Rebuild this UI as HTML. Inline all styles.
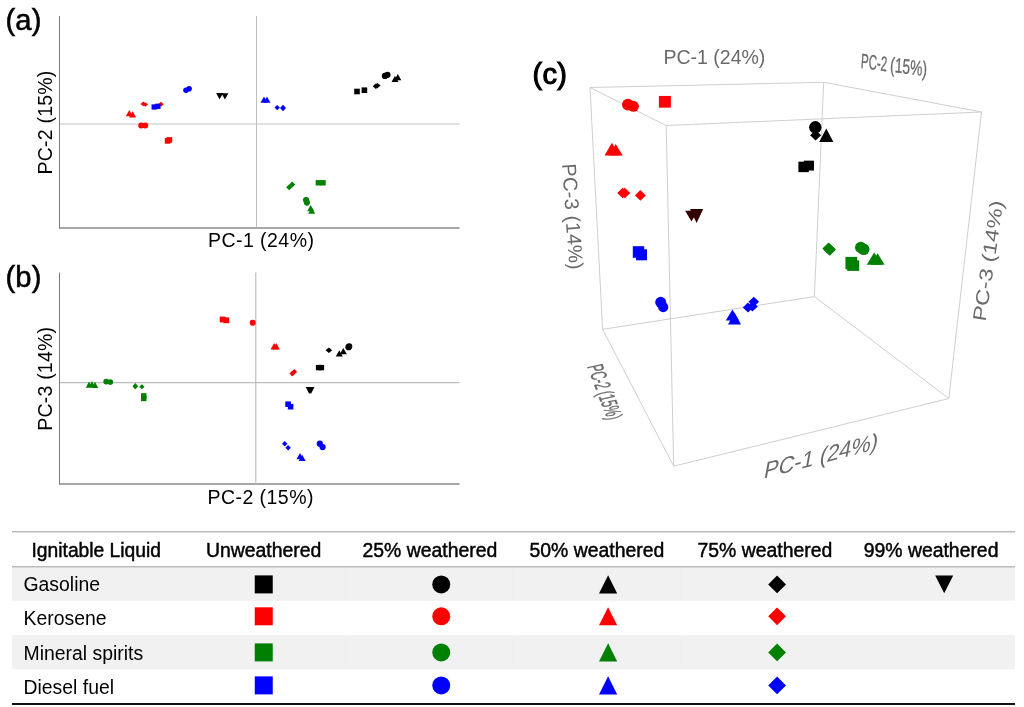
<!DOCTYPE html>
<html><head><meta charset="utf-8"><title>PCA figure</title>
<style>
html,body{margin:0;padding:0;background:#fff;width:1024px;height:707px;overflow:hidden}
svg{display:block;filter:blur(0.45px)}
</style></head>
<body>
<svg width="1024" height="707" viewBox="0 0 1024 707">
<rect width="1024" height="707" fill="#fff"/>
<g id="pa">
<line x1="59.5" y1="16" x2="59.5" y2="228.5" stroke="#7a7a7a" stroke-width="1"/>
<line x1="59" y1="228" x2="459.5" y2="228" stroke="#8a8a8a" stroke-width="1.3"/>
<line x1="256.5" y1="16" x2="256.5" y2="227.5" stroke="#bdbdbd" stroke-width="1"/>
<line x1="60" y1="124" x2="459.5" y2="124" stroke="#c4c4c4" stroke-width="1.1"/>
<polygon points="129.30,110.10 132.80,116.30 125.80,116.30" fill="#ff0000"/>
<polygon points="132.60,111.30 136.10,117.50 129.10,117.50" fill="#ff0000"/>
<polygon points="143.30,101.60 146.10,103.90 143.30,106.20 140.50,103.90" fill="#ff0000"/>
<polygon points="145.30,102.20 148.10,104.50 145.30,106.80 142.50,104.50" fill="#ff0000"/>
<polygon points="161.00,101.80 163.75,104.30 161.00,106.80 158.25,104.30" fill="#ff0000"/>
<circle cx="141.20" cy="125.50" r="2.95" fill="#ff0000"/>
<circle cx="145.30" cy="125.50" r="2.95" fill="#ff0000"/>
<rect x="164.80" y="138.10" width="5.60" height="5.60" fill="#ff0000"/>
<rect x="166.60" y="137.10" width="5.60" height="5.60" fill="#ff0000"/>
<rect x="151.55" y="104.35" width="5.30" height="5.30" fill="#0000ff"/>
<rect x="155.25" y="103.65" width="5.30" height="5.30" fill="#0000ff"/>
<circle cx="186.00" cy="90.20" r="2.80" fill="#0000ff"/>
<circle cx="189.10" cy="88.80" r="2.80" fill="#0000ff"/>
<polygon points="264.00,96.50 267.50,102.70 260.50,102.70" fill="#0000ff"/>
<polygon points="267.00,96.50 270.50,102.70 263.50,102.70" fill="#0000ff"/>
<polygon points="277.20,104.90 279.90,107.60 277.20,110.30 274.50,107.60" fill="#0000ff"/>
<polygon points="283.00,104.70 286.00,108.00 283.00,111.30 280.00,108.00" fill="#0000ff"/>
<polygon points="216.10,93.10 223.10,93.10 219.60,99.30" fill="#000000"/>
<polygon points="221.40,93.30 228.40,93.30 224.90,99.50" fill="#000000"/>
<rect x="354.20" y="88.70" width="5.60" height="5.60" fill="#000000"/>
<rect x="361.60" y="87.40" width="5.60" height="5.60" fill="#000000"/>
<polygon points="375.90,83.50 379.10,86.20 375.90,88.90 372.70,86.20" fill="#000000"/>
<polygon points="377.40,82.90 380.60,85.60 377.40,88.30 374.20,85.60" fill="#000000"/>
<circle cx="384.90" cy="75.90" r="3.10" fill="#000000"/>
<circle cx="387.50" cy="74.80" r="3.10" fill="#000000"/>
<polygon points="395.00,75.70 398.50,81.90 391.50,81.90" fill="#000000"/>
<polygon points="397.80,74.00 401.30,80.20 394.30,80.20" fill="#000000"/>
<polygon points="289.20,184.20 292.30,187.20 289.20,190.20 286.10,187.20" fill="#008000"/>
<polygon points="292.20,181.40 295.20,184.40 292.20,187.40 289.20,184.40" fill="#008000"/>
<rect x="315.70" y="180.10" width="5.40" height="5.40" fill="#008000"/>
<rect x="320.30" y="180.10" width="5.40" height="5.40" fill="#008000"/>
<circle cx="306.10" cy="200.00" r="3.10" fill="#008000"/>
<circle cx="306.90" cy="202.60" r="3.10" fill="#008000"/>
<polygon points="310.70,205.00 314.20,211.20 307.20,211.20" fill="#008000"/>
<polygon points="311.70,207.50 315.20,213.70 308.20,213.70" fill="#008000"/>
</g>
<g id="pb">
<line x1="59.5" y1="272.5" x2="59.5" y2="484.5" stroke="#7a7a7a" stroke-width="1"/>
<line x1="59" y1="484" x2="459.5" y2="484" stroke="#8a8a8a" stroke-width="1.3"/>
<line x1="255.75" y1="272.5" x2="255.75" y2="483.5" stroke="#c4c4c4" stroke-width="1.3"/>
<line x1="60" y1="382.6" x2="459.5" y2="382.6" stroke="#bdbdbd" stroke-width="1.1"/>
<polygon points="89.00,381.60 92.20,387.80 85.80,387.80" fill="#008000"/>
<polygon points="92.00,381.10 95.20,387.30 88.80,387.30" fill="#008000"/>
<polygon points="95.00,381.70 98.20,387.90 91.80,387.90" fill="#008000"/>
<circle cx="106.20" cy="381.60" r="2.85" fill="#008000"/>
<circle cx="110.30" cy="382.00" r="2.85" fill="#008000"/>
<polygon points="135.30,382.90 138.10,386.20 135.30,389.50 132.50,386.20" fill="#008000"/>
<polygon points="141.90,384.30 144.60,386.80 141.90,389.30 139.20,386.80" fill="#008000"/>
<rect x="141.05" y="393.20" width="5.40" height="5.40" fill="#008000"/>
<rect x="141.05" y="395.80" width="5.40" height="5.40" fill="#008000"/>
<rect x="219.70" y="316.60" width="5.80" height="5.80" fill="#ff0000"/>
<rect x="223.40" y="317.40" width="5.80" height="5.80" fill="#ff0000"/>
<circle cx="252.70" cy="322.80" r="3.00" fill="#ff0000"/>
<polygon points="274.10,343.00 277.60,349.60 270.60,349.60" fill="#ff0000"/>
<polygon points="276.30,343.00 279.80,349.60 272.80,349.60" fill="#ff0000"/>
<polygon points="292.30,370.80 295.10,373.60 292.30,376.40 289.50,373.60" fill="#ff0000"/>
<polygon points="294.30,368.90 297.10,371.70 294.30,374.50 291.50,371.70" fill="#ff0000"/>
<rect x="315.90" y="364.90" width="5.40" height="5.40" fill="#000000"/>
<rect x="318.70" y="364.90" width="5.40" height="5.40" fill="#000000"/>
<polygon points="328.90,347.40 332.20,350.20 328.90,353.00 325.60,350.20" fill="#000000"/>
<polygon points="339.30,350.30 342.80,356.50 335.80,356.50" fill="#000000"/>
<polygon points="343.30,348.00 346.80,354.20 339.80,354.20" fill="#000000"/>
<circle cx="348.50" cy="347.20" r="3.10" fill="#000000"/>
<circle cx="349.20" cy="346.40" r="3.10" fill="#000000"/>
<polygon points="305.70,387.10 312.90,387.10 309.30,393.90" fill="#000000"/>
<polygon points="307.30,387.10 314.50,387.10 310.90,393.90" fill="#000000"/>
<rect x="285.30" y="401.40" width="5.60" height="5.60" fill="#0000ff"/>
<rect x="287.80" y="403.90" width="5.60" height="5.60" fill="#0000ff"/>
<polygon points="284.70,441.00 287.40,443.70 284.70,446.40 282.00,443.70" fill="#0000ff"/>
<polygon points="288.10,445.00 290.80,447.70 288.10,450.40 285.40,447.70" fill="#0000ff"/>
<circle cx="319.80" cy="443.70" r="3.10" fill="#0000ff"/>
<circle cx="322.60" cy="447.10" r="3.10" fill="#0000ff"/>
<polygon points="300.00,453.10 303.50,459.30 296.50,459.30" fill="#0000ff"/>
<polygon points="302.20,454.80 305.70,461.00 298.70,461.00" fill="#0000ff"/>
</g>
<g id="pc" stroke="#cfcfcf" stroke-width="1" fill="none">
<line x1="590" y1="87.5" x2="823.7" y2="82.3"/>
<line x1="590" y1="87.5" x2="666.2" y2="125.5"/>
<line x1="666.2" y1="125.5" x2="981.5" y2="112"/>
<line x1="823.7" y1="82.3" x2="981.5" y2="112"/>
<line x1="590" y1="87.5" x2="602.6" y2="329.3"/>
<line x1="666.2" y1="125.5" x2="673.7" y2="466.2"/>
<line x1="981.5" y1="112" x2="948.8" y2="398.5"/>
<line x1="823.7" y1="82.3" x2="814.4" y2="296.6"/>
<line x1="602.6" y1="329.3" x2="814.4" y2="296.6"/>
<line x1="814.4" y1="296.6" x2="948.8" y2="398.5"/>
<line x1="948.8" y1="398.5" x2="673.7" y2="466.2"/>
<line x1="673.7" y1="466.2" x2="602.6" y2="329.3"/>
</g>
<g id="pcm">
<polygon points="611.90,142.80 619.25,155.60 604.55,155.60" fill="#ff0000"/>
<polygon points="615.70,143.90 622.70,155.60 608.70,155.60" fill="#ff0000"/>
<circle cx="627.90" cy="104.60" r="5.90" fill="#ff0000"/>
<circle cx="633.40" cy="106.30" r="5.50" fill="#ff0000"/>
<rect x="658.90" y="95.95" width="12.00" height="11.70" fill="#ff0000"/>
<line x1="623.5" y1="104.2" x2="638" y2="111.4" stroke="#800000" stroke-opacity="0.35" stroke-width="1"/>
<polygon points="622.70,187.75 628.20,193.00 622.70,198.25 617.20,193.00" fill="#ff0000"/>
<polygon points="624.80,187.75 630.30,193.00 624.80,198.25 619.30,193.00" fill="#ff0000"/>
<polygon points="640.40,190.05 645.90,195.40 640.40,200.75 634.90,195.40" fill="#ff0000"/>
<polygon points="815.60,130.10 821.10,135.30 815.60,140.50 810.10,135.30" fill="#000000"/>
<circle cx="815.30" cy="127.30" r="6.20" fill="#000000"/>
<polygon points="826.30,128.50 833.40,141.90 819.20,141.90" fill="#000000"/>
<rect x="798.40" y="161.65" width="10.40" height="10.50" fill="#000000"/>
<rect x="803.85" y="160.65" width="10.10" height="9.90" fill="#000000"/>
<polygon points="685.15,210.85 697.85,210.85 691.50,221.55" fill="#330000"/>
<polygon points="689.95,209.05 703.25,209.05 696.60,222.95" fill="#330000"/>
<polygon points="828.60,242.60 834.85,248.60 828.60,254.60 822.35,248.60" fill="#008000"/>
<polygon points="829.70,243.70 835.95,249.70 829.70,255.70 823.45,249.70" fill="#008000"/>
<circle cx="860.80" cy="247.50" r="5.80" fill="#008000"/>
<circle cx="863.70" cy="249.30" r="5.80" fill="#008000"/>
<rect x="845.45" y="256.90" width="11.70" height="12.40" fill="#008000"/>
<rect x="847.20" y="260.30" width="12.00" height="10.60" fill="#008000"/>
<polygon points="874.20,252.40 881.70,264.70 866.70,264.70" fill="#008000"/>
<polygon points="877.60,253.30 884.60,264.70 870.60,264.70" fill="#008000"/>
<rect x="632.80" y="246.20" width="11.40" height="11.60" fill="#0000ff"/>
<rect x="636.00" y="249.30" width="11.00" height="11.00" fill="#0000ff"/>
<circle cx="660.70" cy="302.30" r="5.50" fill="#0000ff"/>
<circle cx="663.20" cy="307.10" r="5.10" fill="#0000ff"/>
<polygon points="732.40,309.45 739.00,320.55 725.80,320.55" fill="#0000ff"/>
<polygon points="734.50,312.50 741.00,324.50 728.00,324.50" fill="#0000ff"/>
<polygon points="748.00,302.50 753.30,307.50 748.00,312.50 742.70,307.50" fill="#0000ff"/>
<polygon points="753.80,296.80 759.10,301.80 753.80,306.80 748.50,301.80" fill="#0000ff"/>
<polygon points="752.50,301.50 757.80,306.50 752.50,311.50 747.20,306.50" fill="#0000ff"/>
</g>
<g font-family="'Liberation Sans', sans-serif" fill="#000">
<text x="5.5" y="29.6" font-size="29.2" letter-spacing="0.15" stroke="#000" stroke-width="0.55">(a)</text>
<text x="5.5" y="287" font-size="29.2" letter-spacing="0.15" stroke="#000" stroke-width="0.55">(b)</text>
<text x="208" y="247" font-size="19.5" letter-spacing="0.45">PC-1 (24%)</text>
<text x="207.5" y="503.5" font-size="19.5" letter-spacing="0.45">PC-2 (15%)</text>
<text transform="translate(52.1,174.5) rotate(-90)" font-size="19.5" letter-spacing="0.22">PC-2 (15%)</text>
<text transform="translate(52.1,430.8) rotate(-90)" font-size="19.5" letter-spacing="0.22">PC-3 (14%)</text>
<text x="532.5" y="84.2" font-size="29" letter-spacing="0.3" stroke="#000" stroke-width="1.1">(c)</text>
</g>
<g font-family="'Liberation Sans', sans-serif" fill="#6a6a6a">
<text x="663.5" y="64" font-size="19.5">PC-1 (24%)</text>
<text transform="matrix(0.574,0.072,-0.07,1.04,860.5,68)" font-size="20" stroke="#6a6a6a" stroke-width="0.3">PC-2</text>
<text transform="matrix(0.69,0.086,-0.07,1.04,889.8,71.7)" font-size="20" stroke="#6a6a6a" stroke-width="0.3">(15%)</text>
<text transform="translate(562,164) rotate(86)" font-size="20" letter-spacing="0.2">PC-3 (14%)</text>
<text transform="matrix(0.19,-1.28,1.03,0.17,985.5,322)" font-size="18">PC-3 (14%)</text>
<text transform="matrix(0.2,0.52,-1.093,0.243,587,366.5)" font-size="20" stroke="#6a6a6a" stroke-width="0.35">PC-2 (15%)</text>
<text transform="matrix(1.09,-0.286,-0.22,1.18,763,478.8)" font-size="20">PC-1 (24%)</text>
</g>
<line x1="12" y1="531.75" x2="1015" y2="531.75" stroke="#bababa" stroke-width="1.5"/>
<rect x="12" y="567.5" width="1003" height="33.3" fill="#f1f1f1"/>
<rect x="12" y="635" width="1003" height="34.4" fill="#f1f1f1"/>
<line x1="346.2" y1="568" x2="346.2" y2="600.5" stroke="#ececec" stroke-width="0.6"/>
<line x1="346.2" y1="635.2" x2="346.2" y2="669" stroke="#ececec" stroke-width="0.6"/>
<line x1="513.2" y1="568" x2="513.2" y2="600.5" stroke="#ececec" stroke-width="0.6"/>
<line x1="513.2" y1="635.2" x2="513.2" y2="669" stroke="#ececec" stroke-width="0.6"/>
<line x1="680.3" y1="568" x2="680.3" y2="600.5" stroke="#ececec" stroke-width="0.6"/>
<line x1="680.3" y1="635.2" x2="680.3" y2="669" stroke="#ececec" stroke-width="0.6"/>
<line x1="847.8" y1="568" x2="847.8" y2="600.5" stroke="#ececec" stroke-width="0.6"/>
<line x1="847.8" y1="635.2" x2="847.8" y2="669" stroke="#ececec" stroke-width="0.6"/>
<line x1="12" y1="566.75" x2="1015" y2="566.75" stroke="#bababa" stroke-width="1.5"/>
<line x1="12" y1="704" x2="1015" y2="704" stroke="#111" stroke-width="2.2"/>
<g font-family="'Liberation Sans', sans-serif" font-size="19.4" fill="#000" stroke="#000" stroke-width="0.45">
<text x="31.5" y="556.9" textLength="129.5" lengthAdjust="spacingAndGlyphs">Ignitable Liquid</text>
<text x="206" y="556.9">Unweathered</text>
<text x="362.5" y="556.9">25% weathered</text>
<text x="529.5" y="556.9">50% weathered</text>
<text x="697.5" y="556.9">75% weathered</text>
<text x="863.7" y="556.9">99% weathered</text>
</g>
<g font-family="'Liberation Sans', sans-serif" font-size="19.4" fill="#000">
<text x="23.5" y="590.8">Gasoline</text>
<text x="23.5" y="625.2">Kerosene</text>
<text x="23.5" y="659.6">Mineral spirits</text>
<text x="23.5" y="694.1">Diesel fuel</text>
</g>
<rect x="254.75" y="575.40" width="18.00" height="18.00" fill="#000000"/>
<circle cx="441.25" cy="584.40" r="9.00" fill="#000000"/>
<polygon points="608.10,575.35 617.20,593.45 599.00,593.45" fill="#000000"/>
<polygon points="777.10,575.50 786.00,584.40 777.10,593.30 768.20,584.40" fill="#000000"/>
<polygon points="935.20,575.50 953.20,575.50 944.20,593.30" fill="#000000"/>
<rect x="254.75" y="607.30" width="18.00" height="18.00" fill="#ff0000"/>
<circle cx="441.25" cy="616.30" r="9.00" fill="#ff0000"/>
<polygon points="608.10,607.25 617.20,625.35 599.00,625.35" fill="#ff0000"/>
<polygon points="777.10,607.40 786.00,616.30 777.10,625.20 768.20,616.30" fill="#ff0000"/>
<rect x="254.75" y="643.40" width="18.00" height="18.00" fill="#008000"/>
<circle cx="441.25" cy="652.40" r="9.00" fill="#008000"/>
<polygon points="608.10,643.35 617.20,661.45 599.00,661.45" fill="#008000"/>
<polygon points="777.10,643.50 786.00,652.40 777.10,661.30 768.20,652.40" fill="#008000"/>
<rect x="254.75" y="676.40" width="18.00" height="18.00" fill="#0000ff"/>
<circle cx="441.25" cy="685.40" r="9.00" fill="#0000ff"/>
<polygon points="608.10,676.35 617.20,694.45 599.00,694.45" fill="#0000ff"/>
<polygon points="777.10,676.50 786.00,685.40 777.10,694.30 768.20,685.40" fill="#0000ff"/>
</svg>
</body></html>
